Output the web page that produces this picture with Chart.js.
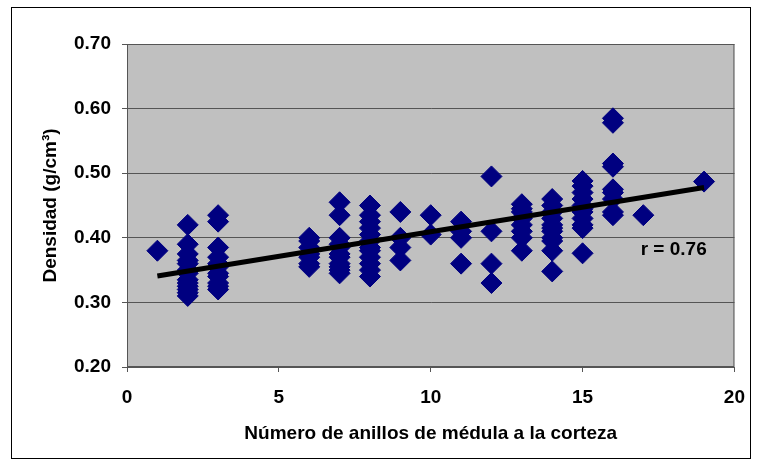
<!DOCTYPE html>
<html><head><meta charset="utf-8">
<script src="https://cdn.jsdelivr.net/npm/chart.js@4/dist/chart.umd.min.js"></script>
<style>html,body{margin:0;padding:0;background:#fff;}canvas{display:block;}</style>
</head><body>
<canvas id="c" width="759" height="466"></canvas>
<script>
// Number of rings from pith to bark (x) and density (y)
const rings = [
  1,
  2,2,2,2,2,2,2,2,2,2,2,2,2,
  3,3,3,3,3,3,3,3,3,3,3,
  6,6,6,6,6,6,6,
  7,7,7,7,7,7,7,7,7,7,7,
  8,8,8,8,8,8,8,8,8,8,8,8,
  9,9,9,9,
  10,10,
  11,11,11,11,
  12,12,12,12,
  13,13,13,13,13,13,13,13,
  14,14,14,14,14,14,14,14,14,14,14,
  15,15,15,15,15,15,15,15,15,15,15,
  16,16,16,16,16,16,16,16,16,
  17,
  19
];
const density = [
  0.38,
  0.42,0.39,0.375,0.365,0.36,0.35,0.345,0.335,0.33,0.325,0.32,0.315,0.31,
  0.435,0.425,0.385,0.37,0.36,0.355,0.345,0.34,0.33,0.325,0.32,
  0.40,0.395,0.385,0.375,0.37,0.36,0.355,
  0.455,0.435,0.40,0.39,0.385,0.375,0.37,0.36,0.355,0.35,0.345,
  0.45,0.435,0.425,0.415,0.405,0.395,0.385,0.38,0.37,0.36,0.35,0.34,
  0.44,0.40,0.385,0.365,
  0.435,0.405,
  0.425,0.41,0.40,0.36,
  0.495,0.41,0.36,0.33,
  0.452,0.445,0.44,0.43,0.42,0.41,0.40,0.38,
  0.46,0.45,0.44,0.43,0.42,0.415,0.41,0.40,0.395,0.38,0.348,
  0.488,0.48,0.47,0.46,0.45,0.445,0.44,0.43,0.42,0.415,0.376,
  0.585,0.578,0.515,0.51,0.475,0.47,0.46,0.44,0.435,
  0.435,
  0.487
];
// Trend line end points
const trendX = [1, 19];
const trendY = [0.341, 0.478];
// Tick labels
const xTicks = [0, 5, 10, 15, 20];
const yTicks = [0.20, 0.30, 0.40, 0.50, 0.60, 0.70];
const xTitle = 'Número de anillos de médula a la corteza';
const yTitle = 'Densidad (g/cm³)';
const rText = 'r = 0.76';
const rAt = [18, 0.381];

const FONT = '"Liberation Sans", Arial, sans-serif';
const FS = 19;
const points = rings.map((x, i) => ({x: x, y: density[i]}));
const trend = trendX.map((x, i) => ({x: x, y: trendY[i]}));

const framePlugin = {
  id: 'frame',
  beforeDraw(chart) {
    const {ctx, chartArea: a} = chart;
    ctx.save();
    ctx.fillStyle = '#ffffff';
    ctx.fillRect(0, 0, chart.width, chart.height);
    ctx.strokeStyle = '#000000';
    ctx.lineWidth = 1;
    ctx.strokeRect(11.5, 7.5, 739, 451);
    ctx.fillStyle = '#c0c0c0';
    ctx.fillRect(a.left, a.top, a.right - a.left, a.bottom - a.top);
    ctx.restore();
  },
  beforeDatasetsDraw(chart) {
    const {ctx, chartArea: a} = chart;
    ctx.save();
    ctx.strokeStyle = '#555555';
    ctx.lineWidth = 1;
    ctx.strokeRect(a.left + 0.5, a.top + 0.5, a.right - a.left - 1, a.bottom - a.top - 1);
    ctx.restore();
  },
  afterDatasetsDraw(chart) {
    const {ctx, scales: {x, y}} = chart;
    ctx.save();
    ctx.font = 'bold ' + FS + 'px ' + FONT;
    ctx.fillStyle = '#000';
    ctx.textAlign = 'center';
    ctx.textBaseline = 'middle';
    ctx.fillText(rText, x.getPixelForValue(rAt[0]), y.getPixelForValue(rAt[1]));
    ctx.restore();
  }
};

new Chart(document.getElementById('c'), {
  type: 'scatter',
  data: {
    datasets: [
      {
        type: 'line',
        data: trend,
        borderColor: '#000000',
        borderWidth: 5,
        pointRadius: 0,
        fill: false,
        order: 0
      },
      {
        data: points,
        pointStyle: 'rectRot',
        pointRadius: 10.5,
        pointBackgroundColor: '#000080',
        pointBorderColor: '#000080',
        pointBorderWidth: 1,
        order: 1
      }
    ]
  },
  options: {
    responsive: false,
    animation: false,
    devicePixelRatio: 1,
    layout: {padding: {left: 0, right: 22, top: 44, bottom: 0}},
    plugins: {legend: {display: false}, tooltip: {enabled: false}},
    scales: {
      x: {
        type: 'linear', min: 0, max: 20,
        afterBuildTicks: s => { s.ticks = xTicks.map(v => ({value: v})); },
        afterFit: s => { s.height = 99; },
        ticks: {color: '#000', font: {family: FONT, size: FS, weight: 'bold'}, padding: 14, maxRotation: 0},
        grid: {display: true, drawOnChartArea: false, drawTicks: true, tickLength: 5, color: '#555555'},
        border: {display: true, color: '#555555'},
        title: {display: true, text: xTitle, color: '#000', font: {family: FONT, size: FS, weight: 'bold'}, padding: {top: 0, bottom: 21}}
      },
      y: {
        type: 'linear', min: 0.2, max: 0.7,
        afterBuildTicks: s => { s.ticks = yTicks.map(v => ({value: v})); },
        afterFit: s => { s.width = 127; },
        ticks: {color: '#000', font: {family: FONT, size: FS, weight: 'bold'}, padding: 11, callback: v => Number(v).toFixed(2)},
        grid: {display: true, drawTicks: true, tickLength: 5, color: '#555555'},
        border: {display: true, color: '#555555'},
        title: {display: true, text: yTitle, color: '#000', font: {family: FONT, size: FS, weight: 'bold'}, padding: {top: 39, bottom: 0}}
      }
    }
  },
  plugins: [framePlugin]
});
</script>
</body></html>
